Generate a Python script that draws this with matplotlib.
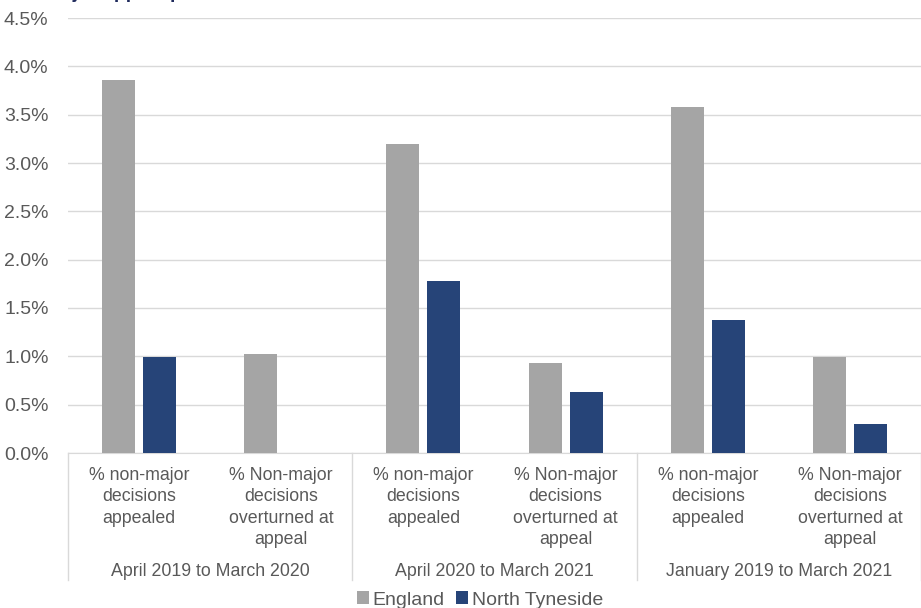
import matplotlib.pyplot as plt
import matplotlib.transforms as mtransforms
import numpy as np

plt.rcParams['font.family'] = ['Liberation Sans', 'DejaVu Sans']

# data (percent)
categories = ['% non-major\ndecisions\nappealed', '% Non-major\ndecisions\noverturned at\nappeal'] * 3
periods = ['April 2019 to March 2020', 'April 2020 to March 2021', 'January 2019 to March 2021']
england = [3.86, 1.02, 3.20, 0.93, 3.58, 0.99]
north_tyneside = [0.99, 0.0, 1.78, 0.63, 1.38, 0.30]

W, H = 921, 608
fig = plt.figure(figsize=(W / 100, H / 100), dpi=100)
ax = fig.add_axes([68 / W, (H - 453) / H, (W - 68) / W, 435 / H])

x = np.arange(len(categories))
bw = 0.232
off = 0.144
ax.bar(x - off, england, bw, color='#A5A5A5', label='England', zorder=3)
ax.bar(x + off, north_tyneside, bw, color='#264478', label='North Tyneside', zorder=3)

ax.set_xlim(-0.5, len(categories) - 0.5)
ax.set_ylim(0, 4.5)
ax.set_yticks(np.arange(0, 4.51, 0.5))
ax.set_yticklabels(['%.1f%%' % v for v in np.arange(0, 4.51, 0.5)])
ax.tick_params(axis='y', length=0, labelsize=14, colors='#595959', pad=14)
ax.set_xticks([])
ax.grid(axis='y', color='#D9D9D9', linewidth=1, zorder=0)
for s in ['left', 'right', 'top']:
    ax.spines[s].set_visible(False)
ax.spines['bottom'].set_color('#D9D9D9')

# multi-level category axis
trans = mtransforms.blended_transform_factory(ax.transData, ax.transAxes)
px = 1 / 435
for i, lab in enumerate(categories):
    ax.text(i, -14 * px, lab, transform=trans, ha='center', va='top',
            fontsize=12.8, color='#595959', linespacing=1.34)
for g, p in enumerate(periods):
    ax.text(2 * g + 0.5, -119 * px, p, transform=trans, ha='center', va='center',
            fontsize=12.8, color='#595959')
for b in [-0.5, 1.5, 3.5, 5.5]:
    ax.plot([b, b], [0, -127 * px], transform=trans, color='#D9D9D9',
            linewidth=1, clip_on=False)

fig.legend(loc='center', bbox_to_anchor=(480 / W, 8 / H), ncol=2, frameon=False,
           fontsize=14, handlelength=0.6, handleheight=0.6, handletextpad=0.2,
           columnspacing=0.6, labelcolor='#595959', borderpad=0)

fig.text(0.0, 1 + 1.5 / H, 'Non-major appeal performance', ha='left', va='baseline',
         fontsize=14, fontweight='bold', color='#1F2A5C')

fig.savefig('out.png', dpi=100)
